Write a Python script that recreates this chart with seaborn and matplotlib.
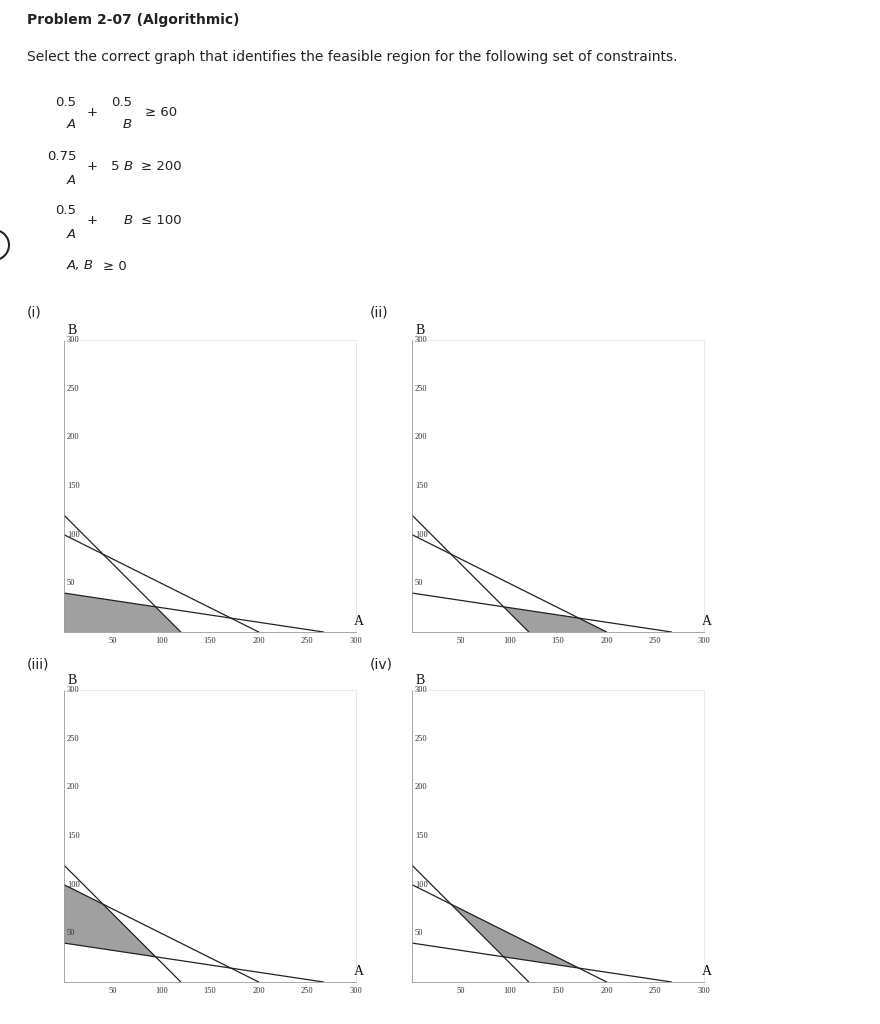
import numpy as np
import matplotlib
matplotlib.use("Agg")
import matplotlib.pyplot as plt
import seaborn as sns
import pandas as pd
from matplotlib.patches import Arc

sns.set_theme(style="white")
plt.rcParams['font.family'] = ['DejaVu Sans']

# constraint lines: a*A + b*B = c
coef_a = [1.0, 0.75, 0.5]
coef_b = [1.0, 5.0, 1.0]
coef_c = [120.0, 200.0, 100.0]
# shaded region per panel: +1 means <= , -1 means >=
panel_names = ["(i)", "(ii)", "(iii)", "(iv)"]
panel_signs = [[1, 1, 1], [-1, 1, 1], [1, -1, 1], [-1, -1, 1]]
ticks = [50, 100, 150, 200, 250, 300]

W, H = 880, 1024
fig = plt.figure(figsize=(W / 100, H / 100), dpi=100)

def clip(poly, a, b, c, s):
    out = []
    n = len(poly)
    f = lambda p: s * (c - a * p[0] - b * p[1])
    for i in range(n):
        p, q = poly[i], poly[(i + 1) % n]
        fp, fq = f(p), f(q)
        if fp >= 0:
            out.append(p)
        if (fp >= 0) != (fq >= 0):
            t = fp / (fp - fq)
            out.append((p[0] + t * (q[0] - p[0]), p[1] + t * (q[1] - p[1])))
    return out

tfont = dict(family="Liberation Serif", color="#333333")
origins = [(64, 340), (412, 340), (64, 690), (412, 690)]
label_pos = [(27, 313), (370, 313), (27, 665), (370, 665)]
size = 292
for k in range(4):
    x0, y0 = origins[k]
    ax = fig.add_axes([x0 / W, 1 - (y0 + size) / H, size / W, size / H])
    poly = [(0, 0), (300, 0), (300, 300), (0, 300)]
    for a, b, c, s in zip(coef_a, coef_b, coef_c, panel_signs[k]):
        poly = clip(poly, a, b, c, s)
    ax.fill([p[0] for p in poly], [p[1] for p in poly], color="#a0a0a0", lw=0, zorder=1)
    for a, b, c in zip(coef_a, coef_b, coef_c):
        df = pd.DataFrame({"A": [0, c / a], "B": [c / b, 0]})
        sns.lineplot(data=df, x="A", y="B", ax=ax, color="#222222", lw=0.9, zorder=2)
    ax.set_xlim(0, 300)
    ax.set_ylim(0, 300)
    ax.set_xlabel("")
    ax.set_ylabel("")
    ax.set_xticks(ticks)
    ax.set_xticklabels([str(t) for t in ticks], fontsize=6, **tfont)
    ax.set_yticks([])
    ax.set_xticks(np.arange(10, 300, 10), minor=True)
    ax.set_yticks(np.arange(10, 300, 10), minor=True)
    ax.tick_params(axis="x", which="major", length=3, width=0.6, color="#777777", pad=2, direction="inout")
    ax.tick_params(which="minor", length=2, width=0.4, color="#999999", direction="inout")
    for t in ticks:
        ax.text(3, t, str(t), fontsize=6, va="center", ha="left", **tfont)
    for sp in ["top", "right"]:
        ax.spines[sp].set_color("#e6e6e6")
        ax.spines[sp].set_linewidth(0.6)
    for sp in ["left", "bottom"]:
        ax.spines[sp].set_color("#999999")
        ax.spines[sp].set_linewidth(0.6)
    ax.text(8, 303, "B", fontsize=10, ha="center", va="bottom", family="Liberation Serif", color="#111111")
    ax.text(303, 4, "A", fontsize=10, ha="center", va="bottom", family="Liberation Serif", color="#111111")
    lx, ly = label_pos[k]
    fig.text(lx / W, 1 - ly / H, panel_names[k], fontsize=10, va="center", color="#222222")

def t(x, y, s, **kw):
    fig.text(x / W, 1 - y / H, s, va="center", color="#222222", **kw)

t(27, 20, "Problem 2-07 (Algorithmic)", fontsize=10, weight="bold")
t(27, 57, "Select the correct graph that identifies the feasible region for the following set of constraints.", fontsize=10)
fs = 9.5
t(55, 102, "0.5", fontsize=fs); t(67, 125, "A", fontsize=fs, style="italic")
t(87, 113, "+", fontsize=fs)
t(111, 102, "0.5", fontsize=fs); t(123, 125, "B", fontsize=fs, style="italic")
t(145, 113, "≥ 60", fontsize=fs)
t(47, 157, "0.75", fontsize=fs); t(67, 180, "A", fontsize=fs, style="italic")
t(87, 167, "+", fontsize=fs); t(111, 167, "5", fontsize=fs)
t(124, 167, "B", fontsize=fs, style="italic"); t(141, 167, "≥ 200", fontsize=fs)
t(55, 211, "0.5", fontsize=fs); t(67, 234, "A", fontsize=fs, style="italic")
t(87, 221, "+", fontsize=fs)
t(124, 221, "B", fontsize=fs, style="italic"); t(141, 221, "≤ 100", fontsize=fs)
t(67, 266, "A, B", fontsize=fs, style="italic"); t(103, 266, "≥ 0", fontsize=fs)

bg = fig.add_axes([0, 0, 1, 1], zorder=-1)
bg.set_xlim(0, W); bg.set_ylim(H, 0); bg.axis("off")
bg.add_patch(Arc((-6, 245), 30, 30, theta1=-90, theta2=90, color="#222222", lw=1.5))

fig.savefig("out.png", dpi=100)
